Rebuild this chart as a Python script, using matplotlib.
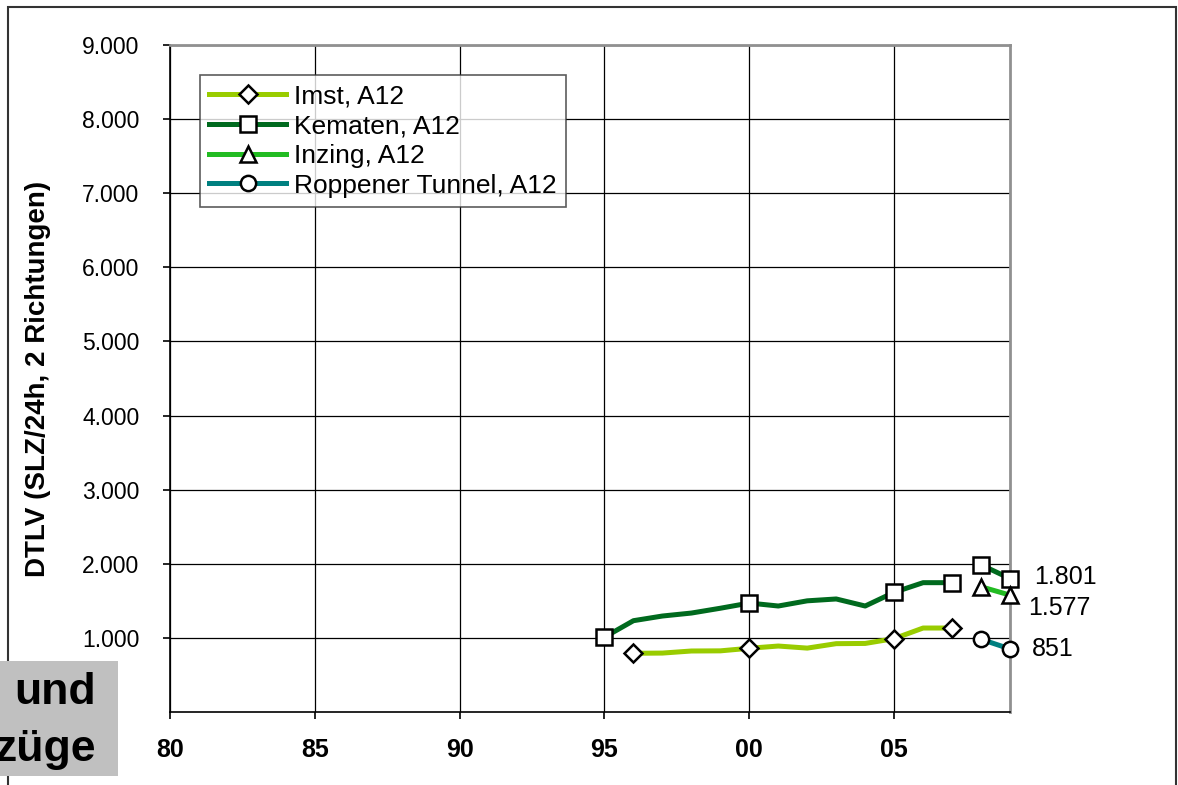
import numpy as np
import matplotlib
matplotlib.use('Agg')
import matplotlib.pyplot as plt
from matplotlib.patches import Rectangle

plt.rcParams['font.family'] = ['Liberation Sans', 'DejaVu Sans']

# data (SLZ/24h, both directions)
imst_years = [1996, 1997, 1998, 1999, 2000, 2001, 2002, 2003, 2004, 2005, 2006, 2007]
imst_vals = [792, 795, 823, 825, 860, 890, 862, 922, 925, 990, 1133, 1133]

kem_years = [1995, 1996, 1997, 1998, 1999, 2000, 2001, 2002, 2003, 2004, 2005, 2006, 2007]
kem_vals = [1010, 1232, 1295, 1335, 1400, 1470, 1430, 1500, 1525, 1430, 1615, 1745, 1745]
kem2_years = [2008, 2009]
kem2_vals = [1985, 1801]

inz_years = [2008, 2009]
inz_vals = [1690, 1577]

rop_years = [2008, 2009]
rop_vals = [981, 851]

x_ticks = [1980, 1985, 1990, 1995, 2000, 2005]
x_labels = ['80', '85', '90', '95', '00', '05']
y_ticks = [1000, 2000, 3000, 4000, 5000, 6000, 7000, 8000, 9000]
y_labels = ['1.000', '2.000', '3.000', '4.000', '5.000', '6.000', '7.000', '8.000', '9.000']

end_labels = ['1.801', '1.577', '851']
end_vals = [kem2_vals[-1], inz_vals[-1], rop_vals[-1]]

c_imst = '#99cc00'
c_kem = '#006a1e'
c_inz = '#22bb22'
c_rop = '#008080'

fig = plt.figure(figsize=(11.78, 7.85), dpi=100)
ax = fig.add_axes([0.1443, 0.0930, 0.7131, 0.8497])

mk = dict(markersize=11, markerfacecolor='white', markeredgecolor='black', markeredgewidth=1.8,
          clip_on=False, zorder=5)
ax.plot(imst_years, imst_vals, color=c_imst, lw=3.6, marker='D', markevery=[0, 4, 9, 11],
        label='Imst, A12', **dict(mk, markersize=9))
ax.plot(kem_years, kem_vals, color=c_kem, lw=3.6, marker='s', markevery=[0, 5, 10, 12],
        label='Kematen, A12', **mk)
ax.plot(kem2_years, kem2_vals, color=c_kem, lw=3.6, marker='s', **mk)
ax.plot(inz_years, inz_vals, color=c_inz, lw=3.6, marker='^', label='Inzing, A12', **mk)
ax.plot(rop_years, rop_vals, color=c_rop, lw=3.6, marker='o', label='Roppener Tunnel, A12', **mk)

# end-of-line value labels
for lab, v, dx, dy in zip(end_labels, end_vals, [17, 13, 16], [1, -9, 0]):
    ax.annotate(lab, xy=(2009, v), xytext=(dx, dy), textcoords='offset points',
                va='center', ha='left', fontsize=18, annotation_clip=False)

ax.set_xlim(1980, 2009)
ax.set_ylim(0, 9000)
ax.set_xticks(x_ticks)
ax.set_xticklabels(x_labels, fontsize=18, fontweight='bold')
ax.set_yticks(y_ticks)
ax.set_yticklabels(y_labels, fontsize=16.5)
ax.tick_params(direction='out', length=5, width=1.2, color='black')
ax.tick_params(axis='y', pad=17)
ax.tick_params(axis='x', pad=14)
ax.grid(True, color='black', lw=0.9)
ax.set_axisbelow(True)
for s in ['top', 'right']:
    ax.spines[s].set_color('#909090')
    ax.spines[s].set_linewidth(2)
for s in ['left', 'bottom']:
    ax.spines[s].set_color('black')
    ax.spines[s].set_linewidth(1.2)

ax.set_ylabel('DTLV (SLZ/24h, 2 Richtungen)', fontsize=20, fontweight='bold', labelpad=22)

leg = ax.legend(loc='upper left', bbox_to_anchor=(0.036, 0.955), fontsize=19, frameon=True,
                fancybox=False, edgecolor='#333333', handlelength=2.9, handletextpad=0.3,
                borderpad=0.35, labelspacing=0.22, borderaxespad=0)
leg.get_frame().set_linewidth(1.2)

# outer frame of the slide
fig.patches.append(Rectangle((8 / 1178, -0.05), 1168 / 1178, 1.05 - 7 / 785, transform=fig.transFigure,
                             fill=False, edgecolor='#333333', lw=1.5))
# grey text box bottom-left
fig.patches.append(Rectangle((0, 9 / 785), 118 / 1178, 115 / 785, transform=fig.transFigure,
                             facecolor='#c0c0c0', edgecolor='none'))
fig.text(96 / 1178, 92 / 785, 'und', fontsize=32, fontweight='bold', ha='right', va='center')
fig.text(96 / 1178, 35 / 785, 'züge', fontsize=32, fontweight='bold', ha='right', va='center')

fig.savefig('out.png', dpi=100)
